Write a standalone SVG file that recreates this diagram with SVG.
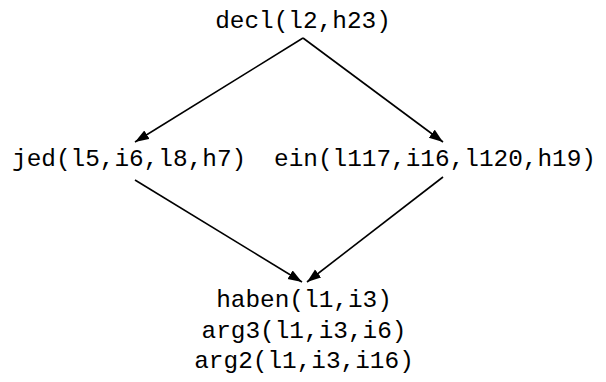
<svg xmlns="http://www.w3.org/2000/svg" width="606" height="382" viewBox="0 0 606 382">
<style>
text{font-family:"Liberation Mono","DejaVu Sans Mono",monospace;font-size:24.4px;fill:#000}
.e{stroke:#000;stroke-width:1.6;fill:none;marker-end:url(#ah)}
</style>
<defs>
<marker id="ah" markerUnits="userSpaceOnUse" markerWidth="16" markerHeight="12" refX="14" refY="5" orient="auto">
<path d="M0,0 L14,5 L0,10 z" fill="#000"/>
</marker>
</defs>
<rect width="606" height="382" fill="#fff"/>
<g id="connectors">
<line class="e" x1="303" y1="38" x2="135" y2="142"/>
<line class="e" x1="303" y1="38" x2="443" y2="142"/>
<line class="e" x1="135" y1="180" x2="302" y2="282"/>
<line class="e" x1="443" y1="177" x2="307" y2="282"/>
</g>
<g id="decl"><text x="303" y="28" text-anchor="middle">decl(l2,h23)</text></g>
<g id="jed"><text x="12" y="166">jed(l5,i6,l8,h7)</text></g>
<g id="ein"><text x="274" y="166">ein(l117,i16,l120,h19)</text></g>
<g id="haben">
<text x="304" y="307" text-anchor="middle">haben(l1,i3)</text>
<text x="304" y="338" text-anchor="middle">arg3(l1,i3,i6)</text>
<text x="304" y="368" text-anchor="middle">arg2(l1,i3,i16)</text>
</g>
</svg>
